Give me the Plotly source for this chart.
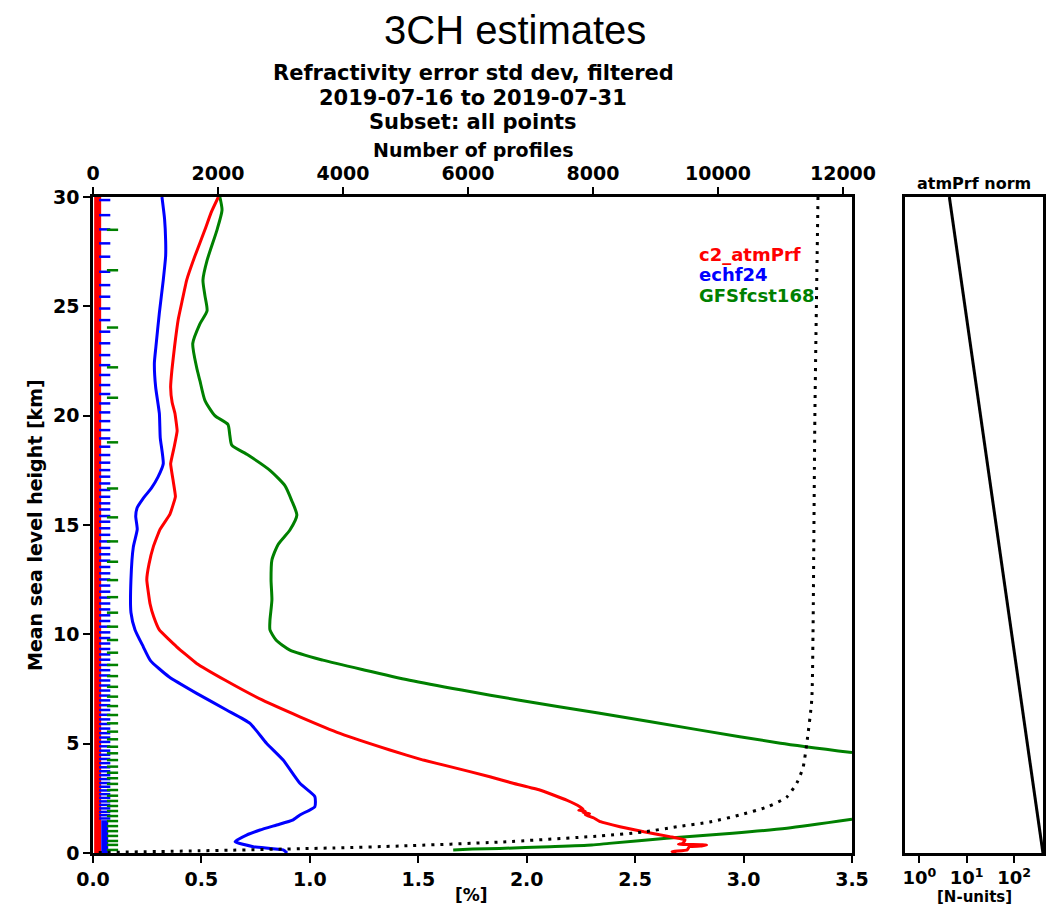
import plotly.graph_objects as go

# ---------------- data ----------------
# c2_atmPrf (red): height [km], value [%]
red_z = [30, 29.3, 28.5, 27.3, 26.2, 25.2, 24.4, 23.15, 22.1, 21.3, 20.6, 20.1, 19.3, 18.6, 17.8, 17.0,
         16.3, 15.5, 14.8, 14.0, 13.2, 12.5, 11.4, 10.8, 10.2, 9.43, 8.67, 7.9, 7.0, 6.23, 5.47, 4.71,
         4.25, 3.95, 3.49, 3.19, 2.88, 2.42, 2.12, 2.0, 1.95, 1.9, 1.85, 1.8, 1.75, 1.6, 1.43, 1.2,
         0.97, 0.75, 0.6, 0.44, 0.40, 0.37, 0.32, 0.29, 0.14, 0.06, 0.0]
red_x = [0.578, 0.545, 0.516, 0.47, 0.432, 0.41, 0.393, 0.376, 0.364, 0.358, 0.365, 0.378, 0.388, 0.375,
         0.358, 0.37, 0.38, 0.355, 0.309, 0.278, 0.258, 0.248, 0.263, 0.28, 0.306, 0.386, 0.478, 0.61,
         0.78, 0.954, 1.139, 1.369, 1.523, 1.646, 1.83, 1.937, 2.06, 2.184, 2.245, 2.26, 2.24, 2.27,
         2.26, 2.29, 2.27, 2.31, 2.34, 2.43, 2.54, 2.66, 2.73, 2.72, 2.70, 2.83, 2.80, 2.75, 2.74, 2.67, 2.69]

# echf24 (blue)
blue_z = [30, 29, 28, 27.3, 26.2, 24.7, 23.15, 22.4, 21.3, 20.1, 19, 17.8, 17.2, 16.7, 16.2, 15.8, 15.4,
          14.8, 14.0, 12.5, 11.0, 10.2, 9.43, 8.8, 8.06, 7.3, 6.54, 5.93, 5.02, 4.25, 3.19, 2.58, 2.12,
          1.74, 1.5, 1.28, 1.05, 0.82, 0.52, 0.29, 0.14, 0.0]
blue_x = [0.318, 0.33, 0.335, 0.335, 0.324, 0.306, 0.29, 0.283, 0.289, 0.306, 0.31, 0.324, 0.30, 0.27,
          0.23, 0.204, 0.197, 0.204, 0.186, 0.175, 0.175, 0.194, 0.232, 0.265, 0.35, 0.478, 0.616,
          0.724, 0.80, 0.877, 0.954, 1.023, 1.023, 0.954, 0.92, 0.847, 0.77, 0.708, 0.655, 0.739,
          0.877, 0.895]

# GFSfcst168 (green), upper branch and lower branch (off-scale in between)
green_z = [30, 29.4, 28.5, 27.1, 26.2, 25.5, 24.8, 24.2, 23.3, 22.2, 21.6, 20.7, 20.0, 19.6, 19.1,
           18.65, 18.2, 17.5, 16.8, 16.1, 15.45, 14.77, 14.1, 13.4, 12.5, 11.57, 10.65, 10.2, 9.74,
           9.28, 8.82, 8.37, 7.9, 7.45, 7.0, 6.4, 5.62, 5.02, 4.59,
           None,
           1.54, 1.13, 0.9, 0.67, 0.44, 0.37, 0.29, 0.21, 0.18, 0.14]
green_x = [0.585, 0.595, 0.572, 0.526, 0.507, 0.516, 0.526, 0.493, 0.46, 0.478, 0.493, 0.516, 0.562,
           0.622, 0.631, 0.64, 0.715, 0.816, 0.885, 0.917, 0.94, 0.908, 0.853, 0.825, 0.821, 0.825,
           0.816, 0.816, 0.844, 0.908, 1.06, 1.25, 1.46, 1.70, 1.96, 2.33, 2.80, 3.17, 3.50,
           None,
           3.50, 3.20, 2.95, 2.645, 2.38, 2.30, 2.107, 1.876, 1.75, 1.661]

# Number of profiles (black dotted, top axis)
nprof_z = [30, 20, 10, 7, 5, 3.9, 3.2, 2.56, 2.1, 1.74, 1.42, 1.2, 0.96, 0.78, 0.5, 0.32, 0.23, 0.1, 0.02]
nprof_n = [11600, 11550, 11520, 11500, 11420, 11360, 11260, 11100, 10780, 10350, 9870, 9340, 8800,
           8110, 6510, 4910, 3840, 1700, 0]

# Vertical levels of the datasets (short marks at the left)
red_levels_z = [0, 30]
blue_levels_z = [29.86, 29.17, 28.52, 27.88, 27.27, 26.58, 25.97, 25.44, 24.90, 24.37, 23.84, 23.31,
                 22.77, 22.31, 21.86, 21.40, 20.99, 20.56, 20.15, 19.75, 19.34, 18.96, 18.58, 18.20,
                 17.85, 17.51, 17.21, 16.90, 16.60, 16.29, 15.99, 15.71, 15.41, 15.15,
                 14.85, 14.55, 14.25, 13.95, 13.66, 13.37, 13.08, 12.79, 12.51, 12.23, 11.95, 11.68,
                 11.41, 11.14, 10.87, 10.61, 10.35, 10.09, 9.83, 9.58, 9.33, 9.08, 8.84, 8.60, 8.36,
                 8.12, 7.89, 7.66, 7.43, 7.20, 6.98, 6.76, 6.54, 6.32, 6.11, 5.90, 5.69, 5.48, 5.28,
                 5.08, 4.88, 4.68, 4.49, 4.30, 4.11, 3.92, 3.74, 3.56, 3.38, 3.20, 3.03, 2.86, 2.69,
                 2.52, 2.36, 2.20, 2.04, 1.88, 1.73, 1.58]
blue_dense_z = [0, 1.5]
green_levels_z = [28.5, 26.65, 24.03, 22.21, 20.82, 18.78, 16.67, 15.35, 14.25, 13.32, 12.48, 11.70,
                  10.99, 10.35, 9.74, 9.16, 8.60, 8.09, 7.60, 7.15, 6.72, 6.31, 5.93, 5.55, 5.20, 4.86,
                  4.56, 4.25, 3.95, 3.67, 3.42, 3.16, 2.88, 2.62, 2.38, 2.15, 1.92, 1.69, 1.46, 1.23,
                  1.00, 0.78, 0.55, 0.37, 0.14]

# atmPrf norm (right panel)
norm_z = [0, 5, 10, 15, 20, 25, 30]
norm_n = [405, 190, 88, 41, 19, 8.9, 4.3]

# tick labels
x_ticks = [0, 0.5, 1.0, 1.5, 2.0, 2.5, 3.0, 3.5]
x_ticklabels = ["0.0", "0.5", "1.0", "1.5", "2.0", "2.5", "3.0", "3.5"]
top_ticks = [0, 2000, 4000, 6000, 8000, 10000, 12000]
top_ticklabels = ["0", "2000", "4000", "6000", "8000", "10000", "12000"]
y_ticks = [0, 5, 10, 15, 20, 25, 30]
y_ticklabels = ["0", "5", "10", "15", "20", "25", "30"]
log_ticks = [1, 10, 100]
log_ticklabels = ["10<sup>0</sup>", "10<sup>1</sup>", "10<sup>2</sup>"]

legend_names = ["c2_atmPrf", "echf24", "GFSfcst168"]
legend_colors = ["#ff0000", "#0000ff", "#008000"]

# ---------------- figure ----------------
RED, BLUE, GREEN = legend_colors
FONT = "DejaVu Sans"
W, H = 1058, 912

fig = go.Figure()

# level marks
fig.add_trace(go.Scatter(x=[0.0215] * len(red_levels_z), y=red_levels_z, mode="lines",
                         line=dict(color=RED, width=7), xaxis="x", yaxis="y", hoverinfo="skip"))
fig.add_trace(go.Scatter(x=[0.054] * len(blue_dense_z), y=blue_dense_z, mode="lines",
                         line=dict(color=BLUE, width=7), xaxis="x", yaxis="y", hoverinfo="skip"))
fig.add_trace(go.Scatter(x=[0.054] * len(blue_levels_z), y=blue_levels_z, mode="markers",
                         marker=dict(symbol="line-ew", size=8, line=dict(color=BLUE, width=2.5)),
                         xaxis="x", yaxis="y", hoverinfo="skip"))
fig.add_trace(go.Scatter(x=[0.09] * len(green_levels_z), y=green_levels_z, mode="markers",
                         marker=dict(symbol="line-ew", size=8, line=dict(color=GREEN, width=2.5)),
                         xaxis="x", yaxis="y", hoverinfo="skip"))

# number of profiles
fig.add_trace(go.Scatter(x=nprof_n, y=nprof_z, mode="lines",
                         line=dict(color="black", width=3, dash="3px,6px", shape="spline", smoothing=0.6),
                         xaxis="x2", yaxis="y"))

# main curves
fig.add_trace(go.Scatter(x=green_x, y=green_z, mode="lines",
                         line=dict(color=GREEN, width=3, shape="spline", smoothing=0.6),
                         xaxis="x", yaxis="y", connectgaps=False))
fig.add_trace(go.Scatter(x=blue_x, y=blue_z, mode="lines",
                         line=dict(color=BLUE, width=3, shape="spline", smoothing=0.5),
                         xaxis="x", yaxis="y"))
fig.add_trace(go.Scatter(x=red_x, y=red_z, mode="lines",
                         line=dict(color=RED, width=3, shape="spline", smoothing=0.3),
                         xaxis="x", yaxis="y"))

# right panel
fig.add_trace(go.Scatter(x=norm_n, y=norm_z, mode="lines", line=dict(color="black", width=3),
                         xaxis="x3", yaxis="y3"))

dom_y = [(H - 853) / H, (H - 197) / H]
axis_common = dict(showline=True, linecolor="black", linewidth=2.5, showgrid=False, zeroline=False,
                   ticks="outside", ticklen=7, tickwidth=2, tickcolor="black", automargin=False,
                   tickfont=dict(family=FONT, size=19, color="black", weight="bold"))

fig.update_layout(
    width=W, height=H, margin=dict(l=0, r=0, t=0, b=0, autoexpand=False),
    paper_bgcolor="white", plot_bgcolor="white", showlegend=False,
    font=dict(family=FONT, color="black"),
    xaxis=dict(domain=[93 / W, 852 / W], range=[0, 3.5], anchor="y", tickvals=x_ticks,
               ticktext=x_ticklabels, mirror=True, **axis_common),
    xaxis2=dict(overlaying="x", side="top", range=[0, 12144], anchor="y", tickvals=top_ticks,
                ticktext=top_ticklabels, **axis_common),
    yaxis=dict(domain=dom_y, range=[0, 30], anchor="x", tickvals=y_ticks, ticktext=y_ticklabels,
               mirror=True, **axis_common),
    xaxis3=dict(domain=[905 / W, 1043 / W], type="log", range=[-0.302, 2.609], anchor="y3",
                tickvals=log_ticks, ticktext=log_ticklabels, mirror=True,
                **{**axis_common, "tickfont": dict(family=FONT, size=18, color="black", weight="bold")}),
    yaxis3=dict(domain=dom_y, range=[0, 30], anchor="x3", showticklabels=False, ticks="",
                showline=True, linecolor="black", linewidth=2.5, mirror=True, showgrid=False,
                zeroline=False, automargin=False),
)


def ann(text, x, y, size, bold=True, family=FONT, angle=0, xref="paper", yref="paper",
        color="black", xanchor="center", yanchor="middle"):
    fig.add_annotation(text=text, x=x, y=y, xref=xref, yref=yref, showarrow=False,
                       xanchor=xanchor, yanchor=yanchor, textangle=angle,
                       font=dict(family=family, size=size, color=color,
                                 weight="bold" if bold else "normal"))


ann("3CH estimates", 515 / W, (H - 30) / H, 40, bold=False, family="Liberation Sans")
ann("Refractivity error std dev, filtered", 473 / W, (H - 73) / H, 21)
ann("2019-07-16 to 2019-07-31", 473 / W, (H - 98) / H, 21)
ann("Subset: all points", 473 / W, (H - 122) / H, 21)
ann("Number of profiles", 473 / W, (H - 150) / H, 19)
ann("[%]", 471 / W, (H - 895) / H, 17)
ann("Mean sea level height [km]", 35 / W, (H - 525) / H, 19, angle=-90)
ann("atmPrf norm", 974 / W, (H - 183) / H, 16)
ann("[N-units]", 974 / W, (H - 897) / H, 15)

legend_y = [27.35, 26.47, 25.5]
for name, col, yy in zip(legend_names, legend_colors, legend_y):
    ann(name, 2.785, yy, 18, xref="x", yref="y", color=col, xanchor="left")

fig.write_html("out.html")
